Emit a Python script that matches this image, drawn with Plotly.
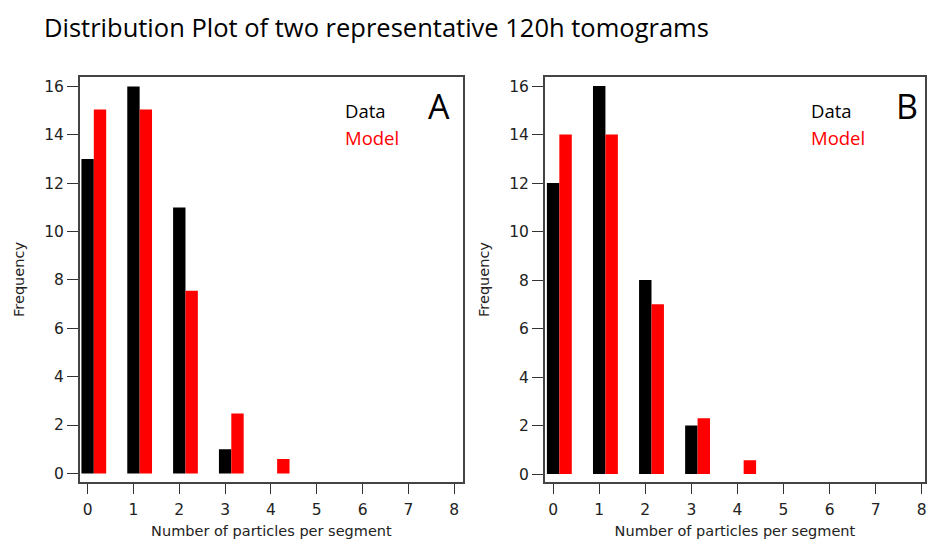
import plotly.graph_objects as go

categories = [0, 1, 2, 3, 4]
data_A = [13, 16, 11, 1, 0]
model_A = [15.05, 15.05, 7.55, 2.48, 0.6]
data_B = [12, 16, 8, 2, 0]
model_B = [14, 14, 7, 2.3, 0.57]
x_ticks = [0, 1, 2, 3, 4, 5, 6, 7, 8]
y_ticks = [0, 2, 4, 6, 8, 10, 12, 14, 16]

W, H = 927, 542
fig = go.Figure()

bw = 0.27
for (dvals, mvals, xa, ya) in [(data_A, model_A, "x", "y"), (data_B, model_B, "x2", "y2")]:
    fig.add_trace(go.Bar(x=categories, y=dvals, width=bw, offset=-bw / 2,
                         marker=dict(color="black", line=dict(width=0)),
                         xaxis=xa, yaxis=ya, showlegend=False))
    fig.add_trace(go.Bar(x=categories, y=mvals, width=bw, offset=bw / 2,
                         marker=dict(color="#ff0000", line=dict(width=0)),
                         xaxis=xa, yaxis=ya, showlegend=False))

tickfont = dict(family="DejaVu Sans", size=15.5, color="#222")
titlefont = dict(family="DejaVu Sans", size=14.5, color="#222")

def xaxis(dom, rng):
    return dict(domain=dom, range=rng, tickvals=x_ticks, ticks="outside", ticklen=10,
                tickwidth=1.3, tickcolor="#333", showline=True, mirror=True,
                linecolor="#444", linewidth=1.5, showgrid=False, zeroline=False,
                tickfont=tickfont, ticklabelstandoff=3,
                title=dict(text="Number of particles per segment", font=titlefont, standoff=7))

def yaxis(dom, rng):
    return dict(domain=dom, range=rng, tickvals=y_ticks, ticks="outside", ticklen=11,
                tickwidth=1.3, tickcolor="#333", showline=True, mirror=True,
                linecolor="#444", linewidth=1.5, showgrid=False, zeroline=False,
                tickfont=tickfont,
                title=dict(text="Frequency", font=titlefont, standoff=16))

ydom = [1 - 483 / H, 1 - 77 / H]
fig.update_layout(
    width=W, height=H,
    margin=dict(l=0, r=0, t=0, b=0),
    paper_bgcolor="white", plot_bgcolor="white",
    barmode="overlay",
    xaxis=xaxis([80 / W, 464 / W], [-0.17, 8.19]),
    yaxis=yaxis(ydom, [-0.36, 16.4]),
    xaxis2=dict(xaxis([546 / W, 1.0], [-0.18, 8.07]), anchor="y2"),
    yaxis2=dict(yaxis(ydom, [-0.33, 16.38]), anchor="x2"),
    title=dict(text="Distribution Plot of two representative 120h tomograms",
               x=44 / W, xanchor="left", y=1 - 28 / H, yanchor="middle",
               font=dict(family="Open Sans", size=25.5, color="black")),
)
fig.layout.xaxis.anchor = "y"
fig.layout.yaxis.anchor = "x"


def add_panel_labels(xref, yref, left, right, dxp, lxp, lab):
    wdt = right - left
    top, bot = 77, 483
    hgt = bot - top
    fig.add_annotation(xref=xref, yref=yref, x=(dxp - left) / wdt, y=1 - (111 - top) / hgt,
                       text="Data", showarrow=False, xanchor="left", yanchor="middle",
                       font=dict(family="Open Sans", size=18.5, color="black"))
    fig.add_annotation(xref=xref, yref=yref, x=(dxp - left) / wdt, y=1 - (138 - top) / hgt,
                       text="Model", showarrow=False, xanchor="left", yanchor="middle",
                       font=dict(family="Open Sans", size=18.5, color="#ff0000"))
    fig.add_annotation(xref=xref, yref=yref, x=(lxp - left) / wdt, y=1 - (106 - top) / hgt,
                       text=lab, showarrow=False, xanchor="center", yanchor="middle",
                       font=dict(family="Open Sans", size=34, color="black"))

add_panel_labels("x domain", "y domain", 80, 464, 344, 440, "A")
add_panel_labels("x2 domain", "y2 domain", 546, 927, 810.5, 909, "B")

fig.write_html("out.html")
